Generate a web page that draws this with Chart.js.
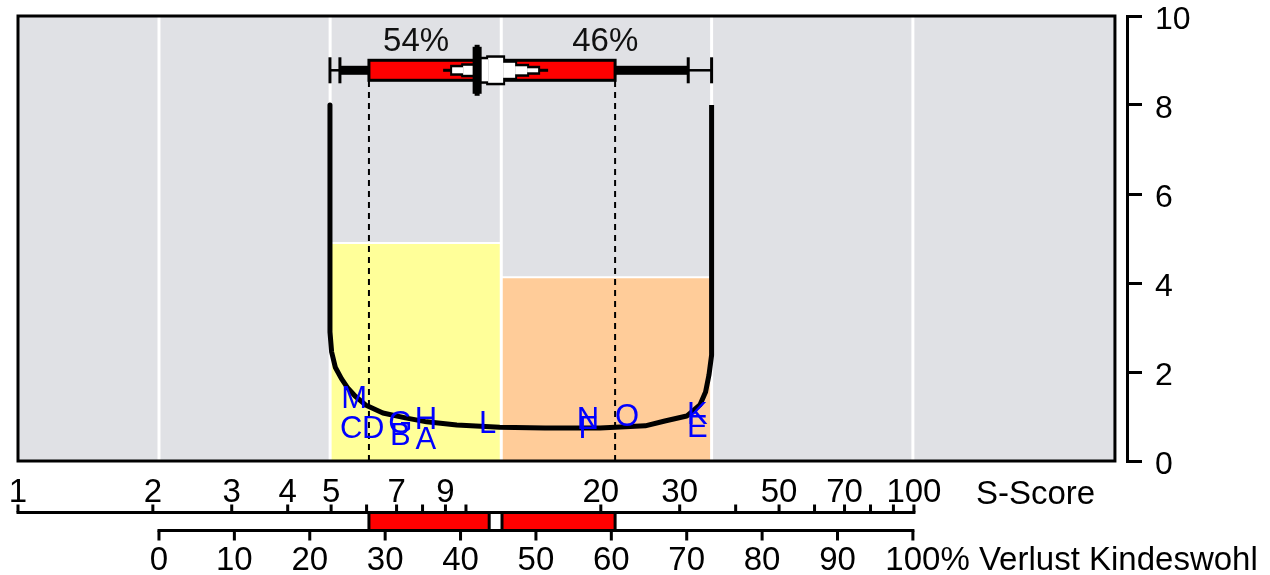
<!DOCTYPE html>
<html>
<head>
<meta charset="utf-8">
<title>S-Score</title>
<script src="https://cdn.jsdelivr.net/npm/chart.js@4.4.0/dist/chart.umd.min.js"></script>
<style>
  html, body { margin: 0; padding: 0; background: #fff; }
  canvas { display: block; }
</style>
</head>
<body>
<canvas id="mycanvas" width="1270" height="575"></canvas>
<script>
// category edges on the % scale (white separators)
var bandEdges = [0, 22.7, 45.4, 73.3, 100];
// shaded categories: from, to, height
var yellowBand = [22.7, 45.4, 4.9];
var orangeBand = [45.4, 73.3, 4.13];

// U-shaped curve
var curveX = [22.68, 22.68, 22.9, 23.4, 24.2, 25.0, 26.0, 27.4, 29.7, 32.7, 35.5, 39.5, 45.2, 51.2, 58.5, 64.5, 67.1, 70.0, 71.75, 72.5, 72.95, 73.3, 73.3];
var curveY = [8.0, 2.9, 2.45, 2.1, 1.85, 1.65, 1.46, 1.26, 1.08, 0.97, 0.88, 0.81, 0.76, 0.74, 0.74, 0.79, 0.9, 1.01, 1.26, 1.55, 1.93, 2.38, 8.0];

// items
var itemLabels = ['M', 'C', 'D', 'G', 'B', 'H', 'A', 'L', 'N', 'F', 'O', 'K', 'E'];
var itemX = [25.9, 25.5, 28.4, 32.0, 32.0, 35.4, 35.4, 43.6, 56.9, 56.9, 62.1, 71.4, 71.4];
var itemY = [1.39, 0.7, 0.7, 0.83, 0.56, 0.9, 0.47, 0.83, 0.92, 0.7, 0.97, 1.03, 0.74];

// estimate bar at the top
var barLevel = 8.78;
var barRange = [27.85, 60.5];
var whiskerOuter = [22.68, 73.3];
var whiskerInner = [24.0, 70.2];
var barMarker = 42.2;
var shareLabels = ['54%', '46%'];
var shareLabelX = [34.1, 59.2];

// bars between the two lower axes
var lowerBars = [[27.85, 43.8], [45.5, 60.5]];

// axes
var pctMin = -18.7, pctMax = 128.4, plotRight = 126.8;
var pctTicks = [0, 10, 20, 30, 40, 50, 60, 70, 80, 90, 100];
var sMin = 1, sMax = 299;
var sTicks = [1, 2, 3, 4, 5, 6, 7, 8, 9, 10, 20, 30, 40, 50, 60, 70, 80, 90, 100];
var sLabels = [1, 2, 3, 4, 5, 7, 9, 20, 30, 50, 70, 100];
var yTicks = [0, 2, 4, 6, 8, 10];

var FONT = "'Liberation Sans', Arial, sans-serif";

function pts(xs, ys) {
	var out = [];
	for (var i = 0; i < xs.length; i++) out.push({x: xs[i], y: ys[i]});
	return out;
}

var datasets = [];

datasets.push({
	data: pts(itemX, itemY), type: 'scatter', pointRadius: 0, order: 1
});
datasets.push({
	data: pts(curveX, curveY), borderColor: '#000', borderWidth: 5,
	pointRadius: 0, tension: 0, borderJoinStyle: 'round', order: 2
});
barRange.forEach(function(v) {
	datasets.push({
		data: [{x: v, y: 0}, {x: v, y: barLevel}], borderColor: '#000', borderWidth: 2,
		borderDash: [6, 5], pointRadius: 0, order: 3
	});
});
bandEdges.forEach(function(v) {
	datasets.push({
		data: [{x: v, y: 0}, {x: v, y: 10}], borderColor: '#fff', borderWidth: 3,
		pointRadius: 0, order: 4
	});
});
[[yellowBand, '#ffff99'], [orangeBand, '#ffcc99']].forEach(function(b) {
	datasets.push({
		data: [{x: b[0][0], y: b[0][2]}, {x: b[0][1], y: b[0][2]}],
		borderColor: '#fff', borderWidth: 2, backgroundColor: b[1],
		fill: 'origin', pointRadius: 0, order: 5
	});
});

var framePlugin = {
	id: 'frame',
	beforeDraw: function(chart) {
		var ctx = chart.ctx, x = chart.scales.x, a = chart.chartArea;
		ctx.save();
		ctx.fillStyle = '#e0e1e5';
		ctx.fillRect(a.left, a.top, x.getPixelForValue(plotRight) - a.left, a.bottom - a.top);
		ctx.restore();
	},
	afterDatasetsDraw: function(chart) {
		var ctx = chart.ctx, x = chart.scales.x, y = chart.scales.y;
		ctx.save();

		// item letters
		var meta = chart.getDatasetMeta(0);
		ctx.font = '31px ' + FONT;
		ctx.fillStyle = '#0000ff';
		ctx.textAlign = 'center';
		ctx.textBaseline = 'middle';
		meta.data.forEach(function(p, i) {
			ctx.fillText(itemLabels[i], p.x, p.y);
		});

		// estimate bar
		var cy = y.getPixelForValue(barLevel);
		ctx.fillStyle = '#000';
		ctx.fillRect(x.getPixelForValue(whiskerOuter[0]), cy - 1.25, x.getPixelForValue(whiskerOuter[1]) - x.getPixelForValue(whiskerOuter[0]), 2.5);
		ctx.fillRect(x.getPixelForValue(whiskerInner[0]), cy - 4.5, x.getPixelForValue(whiskerInner[1]) - x.getPixelForValue(whiskerInner[0]), 9);
		whiskerOuter.concat(whiskerInner).forEach(function(v) {
			ctx.fillRect(x.getPixelForValue(v) - 1.5, cy - 13, 3, 26);
		});
		var b0 = x.getPixelForValue(barRange[0]), b1 = x.getPixelForValue(barRange[1]);
		ctx.fillStyle = '#ff0000';
		ctx.fillRect(b0, cy - 10, b1 - b0, 20);
		ctx.strokeStyle = '#000';
		ctx.lineWidth = 3;
		ctx.strokeRect(b0, cy - 10, b1 - b0, 20);

		// mean glyph
		var mx = x.getPixelForValue(barMarker);
		var segs = [[-25, -14, 3], [-14, -4, 4.5], [4, 11, 11], [11, 26, 12.5], [26, 38, 7.5], [38, 50, 4], [50, 61, 2]];
		ctx.fillStyle = '#000';
		ctx.fillRect(mx - 34, cy - 1.5, 105, 3);
		segs.forEach(function(s) {
			ctx.fillRect(mx + s[0] - 2, cy - s[2] - 2.5, s[1] - s[0] + 4, 2 * s[2] + 5);
		});
		ctx.fillStyle = '#fff';
		segs.forEach(function(s) {
			ctx.fillRect(mx + s[0], cy - s[2], s[1] - s[0], 2 * s[2]);
		});
		ctx.fillStyle = '#000';
		ctx.fillRect(mx - 4.5, cy - 23.5, 9, 47);
		ctx.fillRect(mx - 2.5, cy - 25.5, 5, 51);

		// shares
		ctx.font = '33px ' + FONT;
		ctx.fillStyle = '#111';
		ctx.textBaseline = 'alphabetic';
		shareLabels.forEach(function(t, i) {
			ctx.fillText(t, x.getPixelForValue(shareLabelX[i]), cy - 19);
		});
		ctx.restore();
	},
	afterDraw: function(chart) {
		var ctx = chart.ctx, x = chart.scales.x, xs = chart.scales.xs, a = chart.chartArea;
		ctx.save();
		// plot border
		ctx.strokeStyle = '#000';
		ctx.lineWidth = 3;
		ctx.strokeRect(a.left, a.top, x.getPixelForValue(plotRight) - a.left, a.bottom - a.top);

		var sY = a.bottom + 51.5, pY = a.bottom + 69.5;

		// red bars between the axes
		lowerBars.forEach(function(b) {
			var l = x.getPixelForValue(b[0]), r = x.getPixelForValue(b[1]);
			ctx.fillStyle = '#ff0000';
			ctx.fillRect(l, sY, r - l, pY - sY);
			ctx.strokeRect(l, sY, r - l, pY - sY);
		});

		ctx.fillStyle = '#000';
		ctx.font = '33px ' + FONT;
		ctx.textAlign = 'center';
		ctx.textBaseline = 'alphabetic';

		// S-Score axis (log)
		var s0 = xs.getPixelForValue(sTicks[0]), s1 = xs.getPixelForValue(sTicks[sTicks.length - 1]);
		ctx.fillRect(s0 - 1.5, sY - 1.5, s1 - s0 + 3, 3);
		sTicks.forEach(function(v) {
			ctx.fillRect(xs.getPixelForValue(v) - 1.5, sY - 8, 3, 8);
		});
		sLabels.forEach(function(v) {
			ctx.fillText(String(v), xs.getPixelForValue(v), a.bottom + 41);
		});
		ctx.textAlign = 'left';
		ctx.fillText('S-Score', s1 + 62, a.bottom + 43);

		// % axis
		var p0 = x.getPixelForValue(pctTicks[0]), p1 = x.getPixelForValue(pctTicks[pctTicks.length - 1]);
		ctx.fillRect(p0 - 1.5, pY - 1.5, p1 - p0 + 3, 3);
		ctx.textAlign = 'center';
		pctTicks.forEach(function(v) {
			var px = x.getPixelForValue(v);
			ctx.fillRect(px - 1.5, pY, 3, 10);
			ctx.fillText(String(v), px, a.bottom + 109);
		});
		var lastW = ctx.measureText(String(pctTicks[pctTicks.length - 1])).width;
		ctx.textAlign = 'left';
		ctx.fillText('% Verlust Kindeswohl', p1 + lastW / 2, a.bottom + 109);
		ctx.restore();
	}
};

var ctx = document.getElementById('mycanvas');
var chart = new Chart(ctx, {
	type: 'line',
	data: { datasets: datasets },
	options: {
		responsive: false,
		animation: false,
		devicePixelRatio: 1,
		layout: { padding: { left: 18, top: 16, right: 0, bottom: 114 } },
		plugins: { legend: { display: false }, tooltip: { enabled: false } },
		scales: {
			x: { type: 'linear', min: pctMin, max: pctMax, display: false },
			xs: { type: 'logarithmic', min: sMin, max: sMax, display: false, position: 'bottom' },
			y: {
				type: 'linear', position: 'right', min: 0, max: 10,
				afterBuildTicks: function(s) { s.ticks = yTicks.map(function(v) { return {value: v}; }); },
				afterFit: function(s) { s.width = 143; s.paddingTop = 0; s.paddingBottom = 0; },
				ticks: { color: '#000', padding: 13, labelOffset: 4, font: { size: 32, family: FONT, lineHeight: 1 } },
				grid: { drawOnChartArea: false, color: '#000', lineWidth: 3, tickLength: 15 },
				border: { color: '#000', width: 3 }
			}
		}
	},
	plugins: [framePlugin]
});
</script>
</body>
</html>
